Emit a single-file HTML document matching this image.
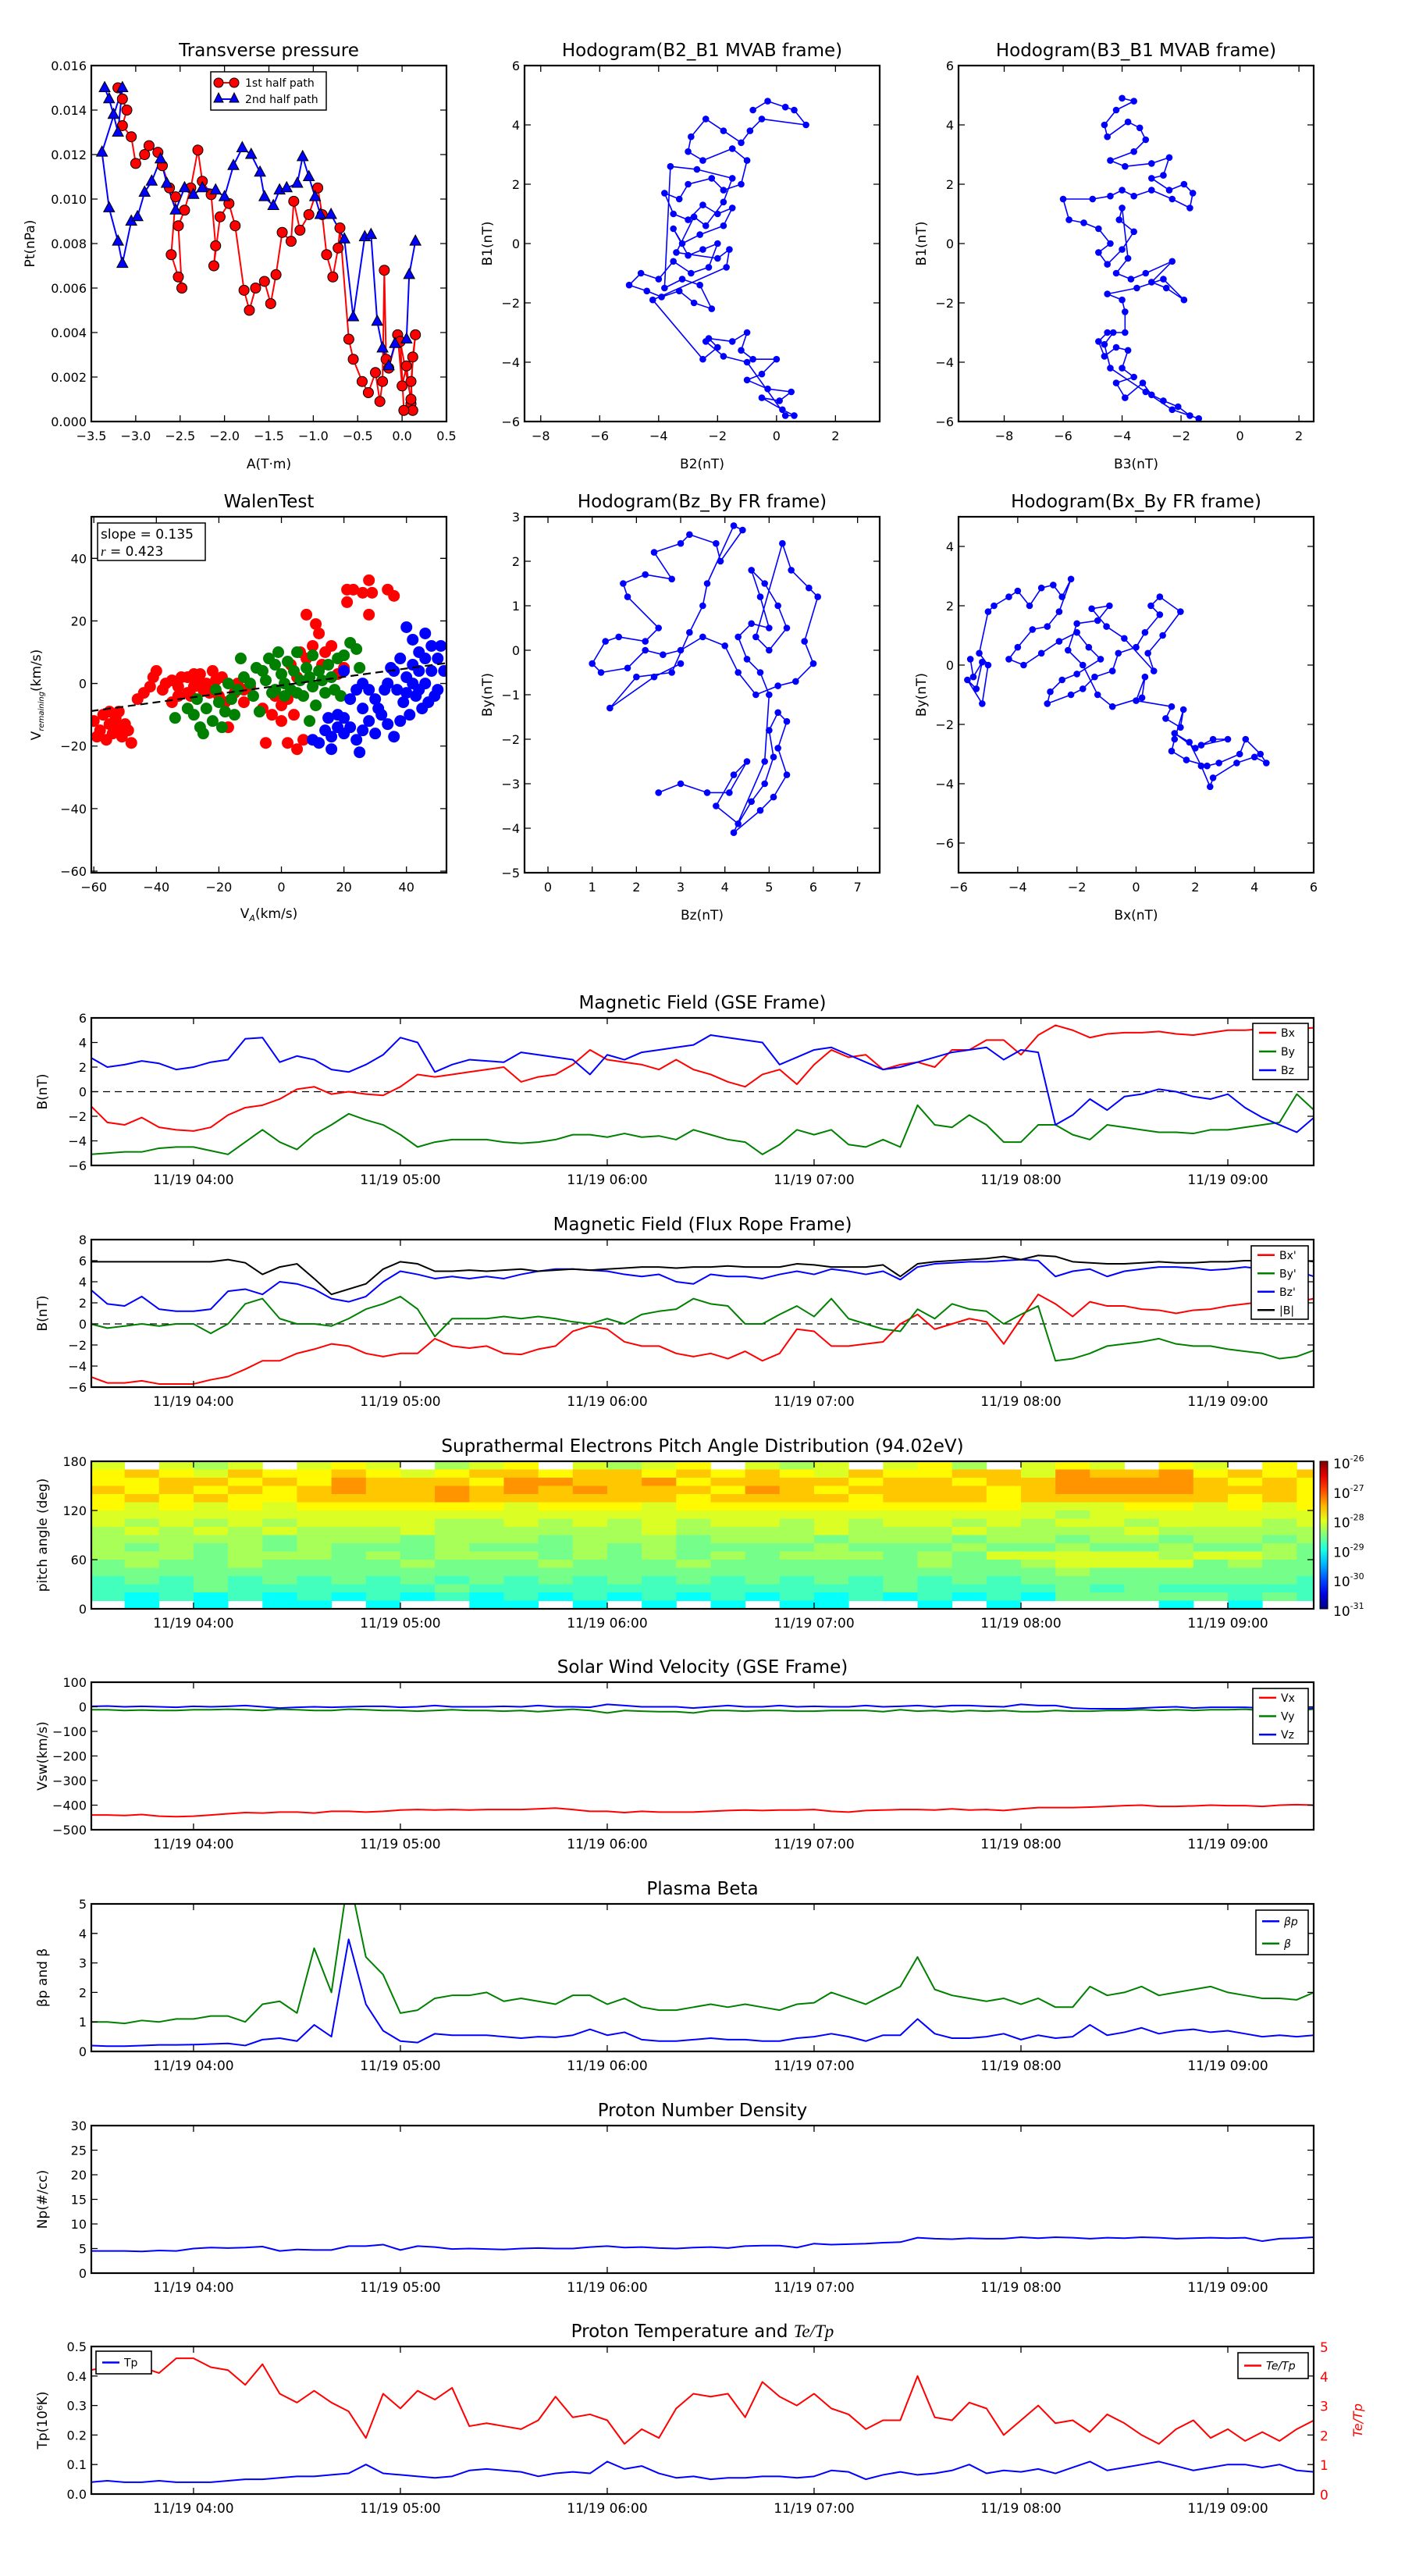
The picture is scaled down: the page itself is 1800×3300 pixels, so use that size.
<!DOCTYPE html>
<html><head><meta charset="utf-8"><style>
html,body{margin:0;padding:0;background:#fff;width:1800px;height:3300px;overflow:hidden}
svg{display:block;font-family:"DejaVu Sans","Liberation Sans",sans-serif}
</style></head><body>
<svg id="fig" width="1800" height="3300" viewBox="0 0 1800 3300"></svg>
<script>
// ---------------- DATA ----------------
const tpRedA=[-3.2,-3.15,-3.1,-3.15,-3.05,-3.0,-2.9,-2.85,-2.75,-2.7,-2.62,-2.55,-2.6,-2.52,-2.48,-2.52,-2.45,-2.38,-2.3,-2.25,-2.15,-2.1,-2.12,-2.05,-1.95,-1.88,-1.78,-1.72,-1.65,-1.55,-1.48,-1.42,-1.35,-1.25,-1.22,-1.15,-1.05,-0.95,-0.9,-0.85,-0.78,-0.72,-0.7,-0.6,-0.55,-0.45,-0.38,-0.3,-0.25,-0.22,-0.2,-0.18,-0.15,-0.05,0.0,0.05,0.1,0.12,0.1,0.15,0.12,0.1,-0.02,0.02];
const tpRedP=[0.015,0.0145,0.014,0.0133,0.0128,0.0116,0.012,0.0124,0.0121,0.0115,0.0105,0.0101,0.0075,0.0065,0.006,0.0088,0.0095,0.0105,0.0122,0.0108,0.0102,0.0079,0.007,0.0092,0.0098,0.0088,0.0059,0.005,0.006,0.0063,0.0053,0.0066,0.0085,0.0081,0.0099,0.0086,0.0093,0.0105,0.0093,0.0075,0.0065,0.0078,0.0087,0.0037,0.0028,0.0018,0.0013,0.0022,0.0009,0.0018,0.0068,0.0028,0.0024,0.0039,0.0016,0.0025,0.0008,0.0005,0.0018,0.0039,0.0029,0.001,0.0036,0.0005];
const tpBlueA=[-3.35,-3.3,-3.25,-3.2,-3.15,-3.38,-3.3,-3.2,-3.15,-3.05,-2.98,-2.9,-2.82,-2.72,-2.65,-2.55,-2.45,-2.35,-2.25,-2.1,-2.0,-1.9,-1.8,-1.7,-1.6,-1.55,-1.45,-1.38,-1.3,-1.18,-1.12,-1.05,-0.98,-0.92,-0.8,-0.65,-0.55,-0.42,-0.35,-0.28,-0.22,-0.15,-0.08,0.05,0.08,0.15];
const tpBlueP=[0.015,0.0145,0.0138,0.013,0.015,0.0121,0.0096,0.0081,0.0071,0.009,0.0092,0.0103,0.0108,0.0118,0.0107,0.0095,0.0105,0.0102,0.0105,0.0104,0.0101,0.0115,0.0123,0.012,0.0112,0.0101,0.0097,0.0104,0.0105,0.0107,0.0119,0.011,0.0101,0.0093,0.0093,0.0082,0.0047,0.0083,0.0084,0.0045,0.0033,0.0025,0.0035,0.0037,0.0066,0.0081];

const h1B2=[-0.8,-0.3,0.3,0.6,1,-0.5,-0.9,-1.2,-1.8,-2.4,-2.9,-3.0,-2.5,-1.5,-1,-1.2,-1.8,-2.2,-3.0,-3.3,-3.8,-3.5,-3.0,-2.5,-2.0,-1.5,-1.8,-2.6,-3.2,-3.5,-3.0,-2.5,-2.0,-2.3,-2.9,-3.5,-4.0,-4.6,-5.0,-4.4,-3.9,-3.3,-2.8,-2.2,-2.6,-3.2,-3.8,-3.6,-2.7,-1.5,-1.8,-2.4,-2.8,-3.4,-2.0,-1.6,-1.7,-4.2,-2.5,-2.0,-2.3,-1.5,-1.0,-1.2,-0.8,0,-0.5,-1.0,-0.3,0.5,0.1,-0.5,0.2,0.6,0.3,-1.0,-1.8,-2.4];
const h1B1=[4.5,4.8,4.6,4.5,4,4.2,3.8,3.4,3.8,4.2,3.6,3.1,2.8,3.2,2.8,2,1.8,2.2,2.0,1.5,1.7,1.0,0.8,1.3,1.0,1.2,0.6,0.3,0,0.5,-0.4,-0.2,0,-0.8,-1.0,-0.6,-1.2,-1.0,-1.4,-1.6,-1.8,-1.6,-2.0,-2.2,-1.4,-1.2,-1.5,2.6,2.5,2.2,1.4,0.6,0.9,-0.3,-0.5,-0.2,-0.8,-1.9,-3.9,-3.5,-3.2,-3.3,-3.0,-3.6,-3.9,-3.9,-4.4,-4.6,-4.9,-5.0,-5.3,-5.2,-5.6,-5.8,-5.8,-4.0,-3.8,-3.3];
const h2B3=[-4.0,-3.6,-4.2,-4.6,-4.5,-3.8,-3.4,-3.2,-3.6,-4.4,-3.9,-3.0,-2.4,-2.6,-3.0,-2.4,-1.9,-1.6,-1.7,-2.3,-3.0,-3.6,-4.0,-4.4,-5.0,-6.0,-5.8,-5.3,-4.8,-4.4,-4.8,-4.5,-4.0,-3.6,-4.1,-4.0,-3.8,-4.2,-3.7,-3.2,-2.3,-3.0,-2.5,-1.9,-2.6,-3.5,-4.5,-4.0,-3.9,-3.9,-4.5,-4.8,-4.6,-4.2,-3.8,-4.0,-3.6,-4.2,-3.9,-3.3,-3.0,-2.6,-2.1,-1.7,-1.4,-2.3,-3.2,-4.4,-4.6,-4.3];
const h2B1=[4.9,4.8,4.5,4.0,3.6,4.1,3.9,3.5,3.1,2.8,2.6,2.7,2.9,2.3,2.2,1.8,2.0,1.7,1.2,1.5,1.8,1.6,1.8,1.6,1.5,1.5,0.8,0.7,0.5,0,-0.3,-0.7,-0.2,0.4,0.8,1.2,-0.5,-1.0,-1.2,-1.0,-0.6,-1.3,-1.5,-1.9,-1.2,-1.5,-1.7,-1.9,-2.3,-3.0,-3.0,-3.3,-3.8,-3.5,-3.6,-4.2,-4.5,-4.7,-5.2,-4.7,-5.1,-5.3,-5.5,-5.8,-5.9,-5.6,-5.0,-4.2,-3.4,-3.0];
const h3Bz=[2.5,3,3.6,4.1,4.5,4.2,3.8,4.3,4.6,4.9,5.1,5.0,5.2,5.4,5.2,5.4,5.1,4.8,4.2,4.9,5.0,4.8,4.5,4.3,4.6,5.0,4.8,4.6,4.9,5.2,5.4,5.0,4.7,5.3,5.5,5.9,6.1,5.8,6.0,5.6,5.2,4.7,4.3,4.0,3.5,3.0,2.6,2.2,1.8,1.2,1.0,1.3,1.6,2.2,2.5,1.8,1.7,2.2,2.8,2.4,3.0,3.2,3.8,3.9,4.4,4.2,3.6,3.5,3.2,2.8,2.0,1.4,2.4,3.0];
const h3By=[-3.2,-3.0,-3.2,-3.2,-2.5,-2.8,-3.5,-3.9,-3.4,-3.0,-2.4,-1.8,-1.4,-1.6,-2.2,-2.8,-3.3,-3.6,-4.1,-2.5,-1.0,-0.5,-0.2,0.3,0.6,0.5,1.2,1.8,1.5,1.0,0.5,0.0,0.3,2.4,1.8,1.4,1.2,0.2,-0.3,-0.7,-0.8,-1.0,-0.5,0.1,0.3,0.0,-0.1,0.0,-0.4,-0.5,-0.3,0.2,0.3,0.2,0.5,1.2,1.5,1.7,1.6,2.2,2.4,2.6,2.4,2.0,2.7,2.8,1.5,1.0,0.4,-0.5,-0.6,-1.3,-0.6,-0.3];
const h4Bx=[-5.6,-5.5,-5.2,-5.4,-5.7,-5.2,-5.0,-5.3,-5.0,-4.8,-4.3,-4.0,-3.6,-3.2,-2.8,-2.5,-2.2,-2.6,-3.0,-3.5,-4.0,-4.3,-3.8,-3.2,-2.6,-2.0,-1.6,-1.2,-2.0,-2.5,-2.9,-3.0,-2.2,-1.8,-1.4,-0.8,-0.6,0.0,0.3,0.8,0.5,0.8,1.5,0.9,0.4,0.6,-0.4,-1.0,-1.5,-0.9,-1.3,-2.0,-2.3,-1.8,-1.3,-0.8,0.2,0.3,0.0,1.2,1.0,1.5,1.6,1.3,1.2,1.7,2.4,2.8,3.5,3.7,4.2,4.4,4.0,3.4,2.6,2.5,2.2,1.8,1.3,2.0,2.6,3.1,2.2];
const h4By=[0.2,-0.4,0.1,-0.8,-0.5,-1.3,0.0,0.4,1.8,2.0,2.3,2.5,2.0,2.6,2.7,2.3,2.9,1.8,1.3,1.2,0.6,0.2,0.0,0.4,0.8,1.1,0.6,0.2,-0.3,-0.5,-0.9,-1.3,-1.0,-0.8,-0.4,-0.2,0.4,0.6,1.1,1.7,2.0,2.3,1.8,1.0,0.4,-0.2,0.9,1.3,1.9,2.0,1.5,1.4,0.5,0.0,-1.0,-1.4,-1.1,-0.4,-1.2,-1.4,-1.8,-2.1,-1.5,-2.5,-2.9,-3.2,-3.4,-3.3,-3.0,-2.5,-3.0,-3.3,-3.1,-3.3,-3.8,-4.1,-3.4,-2.6,-2.3,-2.8,-2.5,-2.5,-2.7];

const walenRedX=[-60,-58,-57,-56,-55,-54,-53,-52,-51,-50,-49,-48,-55,-59,-52,-46,-44,-42,-41,-40,-38,-37,-35,-33,-32,-30,-30,-29,-28,-27,-26,-25,-24,-22,-21,-20,-19,-18,-17,-15,-12,-10,-6,-5,-3,0,2,5,-2,2,5,8,10,12,14,13,16,18,20,21,23,26,28,29,34,36,21,28,8,11,6,3,0,7,4,-35,-33,-28,-23,-14,-12];
const walenRedY=[-12,-15,-10,-18,-13,-16,-11,-14,-17,-13,-15,-19,-9,-17,-9,-5,-3,-1,2,4,-2,0,1,-1,2,-3,2,-4,-1,1,3,-2,0,4,1,-4,2,-6,-14,-3,-6,-1,-8,-19,-10,-12,-19,-21,-4,-5,2,8,12,16,10,6,12,3,5,30,30,29,33,29,30,28,26,22,22,19,10,6,-7,-18,-10,-6,-4,3,-3,0,-2];
const walenGreenX=[-34,-30,-28,-26,-25,-24,-22,-20,-19,-18,-16,-15,-14,-13,-12,-10,-8,-6,-5,-4,-3,-2,-1,0,1,2,3,4,5,6,7,8,9,10,11,12,13,14,15,16,17,18,20,22,24,25,19,-2,1,5,-27,-21,-17,-9,10,-7,9];
const walenGreenY=[-11,-8,-10,-14,-16,-8,-12,-6,-14,-9,-5,-10,-2,8,2,0,5,4,1,8,-3,6,10,3,0,7,-2,4,10,1,-4,5,2,-1,-7,4,1,-3,6,2,-2,8,9,13,11,5,-4,-2,-4,-3,-5,-2,0,-4,9,-9,-12];
const walenBlueX=[40,42,44,46,48,50,38,36,34,40,42,44,46,48,50,52,39,41,43,45,47,49,37,35,44,46,42,40,51,33,30,28,26,24,20,18,16,14,12,10,15,18,22,24,26,28,30,32,34,36,38,20,26,22,31,16,25,20];
const walenBlueY=[18,14,10,16,12,8,8,4,0,2,6,-2,0,4,-2,4,-6,-10,-4,-8,-6,-4,-2,5,4,8,0,-3,12,-2,-5,-2,0,-2,-11,-14,-17,-15,-19,-18,-11,-10,-14,-18,-15,-12,-16,-10,-13,-17,-12,-16,-8,-5,-8,-21,-22,4];
const walenSlope=0.135, walenIntercept=-0.6;

// time series: 5-minute samples starting 03:30 (hours relative to 04:00)
const tStart=-0.5, tStep=1/12;
const gseBx=[-1.1,-2.5,-2.7,-2.1,-2.9,-3.1,-3.2,-2.9,-1.9,-1.3,-1.1,-0.6,0.2,0.4,-0.2,0,-0.2,-0.3,0.4,1.4,1.2,1.4,1.6,1.8,2.0,0.8,1.2,1.4,2.2,3.4,2.6,2.4,2.2,1.8,2.6,1.8,1.4,0.8,0.4,1.4,1.8,0.6,2.2,3.4,2.8,3.0,1.8,2.2,2.4,2.0,3.4,3.4,4.2,4.2,3.0,4.6,5.4,5.0,4.4,4.7,4.8,4.8,4.9,4.7,4.6,4.8,5.0,5.0,5.1,5.0,5.1,5.2];
const gseBy=[-5.1,-5.0,-4.9,-4.9,-4.6,-4.5,-4.5,-4.8,-5.1,-4.1,-3.1,-4.1,-4.7,-3.5,-2.7,-1.8,-2.3,-2.7,-3.5,-4.5,-4.1,-3.9,-3.9,-3.9,-4.1,-4.2,-4.1,-3.9,-3.5,-3.5,-3.7,-3.4,-3.7,-3.6,-3.9,-3.1,-3.5,-3.9,-4.1,-5.1,-4.3,-3.1,-3.5,-3.1,-4.3,-4.5,-3.9,-4.5,-1.1,-2.7,-2.9,-1.9,-2.7,-4.1,-4.1,-2.7,-2.7,-3.5,-3.9,-2.7,-2.9,-3.1,-3.3,-3.3,-3.4,-3.1,-3.1,-2.9,-2.7,-2.5,-0.2,-1.5];
const gseBz=[2.8,2.0,2.2,2.5,2.3,1.8,2.0,2.4,2.6,4.3,4.4,2.4,2.9,2.6,1.8,1.6,2.2,3.0,4.4,4.0,1.6,2.2,2.6,2.5,2.4,3.2,3.0,2.8,2.6,1.4,3.0,2.6,3.2,3.4,3.6,3.8,4.6,4.4,4.2,4.0,2.2,2.8,3.4,3.6,3.0,2.4,1.8,2.0,2.4,2.8,3.2,3.4,3.6,2.6,3.4,3.2,-2.7,-1.9,-0.6,-1.5,-0.4,-0.2,0.2,0,-0.4,-0.6,-0.2,-1.3,-2.1,-2.7,-3.3,-2.1];
const frBx=[-5.0,-5.6,-5.6,-5.4,-5.7,-5.7,-5.7,-5.3,-5.0,-4.3,-3.5,-3.5,-2.8,-2.4,-1.9,-2.1,-2.8,-3.1,-2.8,-2.8,-1.4,-2.1,-2.3,-2.1,-2.8,-2.9,-2.4,-2.1,-0.7,-0.2,-0.5,-1.7,-2.1,-2.1,-2.8,-3.1,-2.8,-3.3,-2.6,-3.5,-2.8,-0.5,-0.7,-2.1,-2.1,-1.9,-1.7,0,0.9,-0.5,0,0.5,0.2,-1.9,0.5,2.8,1.9,0.7,2.1,1.7,1.7,1.4,1.3,1.0,1.3,1.4,1.7,1.9,2.1,2.1,2.1,2.4];
const frBy=[0,-0.4,-0.2,0,-0.2,0,0,-0.9,0,1.9,2.4,0.5,0,0,-0.2,0.5,1.4,1.9,2.6,1.4,-1.2,0.5,0.5,0.5,0.7,0.5,0.7,0.5,0.2,0,0.5,0,0.9,1.2,1.4,2.4,1.9,1.7,0,0,0.9,1.7,0.7,2.4,0.5,0,-0.5,-0.7,1.4,0.5,1.9,1.4,1.2,0,0.9,1.7,-3.5,-3.3,-2.8,-2.1,-1.9,-1.7,-1.4,-1.9,-2.1,-2.1,-2.4,-2.6,-2.8,-3.3,-3.1,-2.5];
const frBz=[3.3,1.9,1.7,2.6,1.4,1.2,1.2,1.4,3.1,3.3,2.8,4.0,3.8,3.3,2.4,2.1,2.6,4.0,5.0,4.7,4.3,4.5,4.3,4.5,4.3,4.7,5.0,5.2,5.2,5.1,5.0,4.7,4.5,4.7,4.0,3.8,4.7,4.5,4.5,4.3,4.7,5.0,4.7,5.2,5.0,4.7,5.0,4.2,5.4,5.7,5.8,5.9,5.9,6.0,6.1,6.0,4.5,5.0,5.2,4.5,5.0,5.2,5.4,5.4,5.3,5.1,5.2,5.4,5.2,5.1,5.0,4.5];
const frBt=[5.9,5.9,5.9,5.9,5.9,5.9,5.9,5.9,6.1,5.8,4.7,5.4,5.7,4.3,2.8,3.3,3.8,5.2,5.9,5.7,5.0,5.0,5.1,5.0,5.1,5.2,5.0,5.1,5.2,5.1,5.2,5.3,5.4,5.4,5.3,5.4,5.4,5.5,5.4,5.4,5.4,5.7,5.6,5.4,5.4,5.4,5.6,4.5,5.7,5.9,6.0,6.1,6.2,6.4,6.1,6.5,6.4,5.9,5.8,5.7,5.7,5.8,5.9,5.8,5.8,5.9,5.9,6.0,6.0,6.0,6.1,5.9];
const vswVx=[-440,-440,-442,-438,-445,-447,-445,-440,-435,-430,-432,-428,-428,-432,-425,-425,-428,-425,-420,-418,-420,-418,-420,-418,-418,-418,-415,-412,-418,-425,-425,-430,-425,-428,-428,-428,-425,-422,-420,-422,-420,-420,-418,-425,-428,-422,-420,-418,-418,-420,-415,-420,-418,-422,-415,-410,-410,-410,-408,-405,-402,-400,-405,-405,-403,-400,-402,-402,-405,-400,-398,-400];
const vswVy=[-12,-12,-15,-13,-15,-15,-12,-12,-10,-12,-15,-10,-12,-15,-15,-10,-12,-15,-15,-18,-15,-12,-15,-15,-18,-15,-20,-15,-10,-15,-25,-15,-18,-20,-20,-25,-15,-15,-18,-15,-15,-18,-18,-15,-15,-15,-20,-12,-18,-15,-20,-15,-18,-15,-20,-20,-15,-18,-18,-15,-15,-12,-15,-12,-15,-12,-12,-10,-15,-10,-15,-10];
const vswVz=[2,3,0,2,0,-2,2,0,2,5,0,-5,-2,0,-2,0,2,2,-2,0,5,0,0,0,2,0,5,0,0,-2,10,5,0,0,0,-5,0,5,0,0,5,0,2,0,0,5,0,2,5,0,5,5,2,0,10,5,5,-5,-8,-8,-8,-5,-2,0,-5,-2,-2,-2,-5,-5,-8,-5];
const betaP=[0.2,0.18,0.18,0.2,0.22,0.22,0.23,0.25,0.27,0.2,0.4,0.45,0.35,0.9,0.5,3.8,1.6,0.7,0.35,0.3,0.6,0.55,0.55,0.55,0.5,0.45,0.5,0.48,0.55,0.75,0.55,0.65,0.4,0.35,0.35,0.4,0.45,0.4,0.4,0.35,0.35,0.45,0.5,0.6,0.5,0.35,0.55,0.55,1.1,0.6,0.45,0.45,0.5,0.6,0.4,0.55,0.45,0.5,0.9,0.55,0.65,0.8,0.6,0.7,0.75,0.65,0.7,0.6,0.5,0.55,0.5,0.55];
const betaT=[1.0,1.0,0.95,1.05,1.0,1.1,1.1,1.2,1.2,1.0,1.6,1.7,1.3,3.5,2.0,6.0,3.2,2.6,1.3,1.4,1.8,1.9,1.9,2.0,1.7,1.8,1.7,1.6,1.9,1.9,1.6,1.8,1.5,1.4,1.4,1.5,1.6,1.5,1.6,1.5,1.4,1.6,1.65,2.0,1.8,1.6,1.9,2.2,3.2,2.1,1.9,1.8,1.7,1.8,1.6,1.8,1.5,1.5,2.2,1.9,2.0,2.2,1.9,2.0,2.1,2.2,2.0,1.9,1.8,1.8,1.75,2.0];
const npDen=[4.5,4.5,4.5,4.4,4.6,4.5,5,5.2,5.1,5.2,5.4,4.5,4.8,4.7,4.7,5.5,5.5,5.8,4.7,5.5,5.3,4.9,5.0,4.9,4.8,5.0,5.1,5.0,5.0,5.3,5.5,5.2,5.3,5.1,5.0,5.2,5.3,5.1,5.5,5.6,5.6,5.2,6.0,5.8,5.9,6.0,6.2,6.3,7.2,7.0,6.9,7.1,7.0,7.0,7.3,7.1,7.3,7.2,7.0,7.2,7.1,7.3,7.2,7.0,7.1,7.2,7.1,7.2,6.5,7.0,7.1,7.3];
const tpTemp=[0.04,0.045,0.04,0.04,0.045,0.04,0.04,0.04,0.045,0.05,0.05,0.055,0.06,0.06,0.065,0.07,0.1,0.07,0.065,0.06,0.055,0.06,0.08,0.085,0.08,0.075,0.06,0.07,0.075,0.07,0.11,0.085,0.095,0.07,0.055,0.06,0.05,0.055,0.055,0.06,0.06,0.055,0.06,0.08,0.075,0.05,0.065,0.075,0.065,0.07,0.08,0.1,0.07,0.08,0.075,0.085,0.07,0.09,0.11,0.08,0.09,0.1,0.11,0.095,0.08,0.09,0.1,0.1,0.09,0.1,0.08,0.075];
const teTp=[4.2,4.3,4.6,4.3,4.1,4.6,4.6,4.3,4.2,3.7,4.4,3.4,3.1,3.5,3.1,2.8,1.9,3.4,2.9,3.5,3.2,3.6,2.3,2.4,2.3,2.2,2.5,3.3,2.6,2.7,2.5,1.7,2.2,1.9,2.9,3.4,3.3,3.4,2.6,3.8,3.3,3.0,3.4,2.9,2.7,2.2,2.5,2.5,4.0,2.6,2.5,3.1,2.9,2.0,2.5,3.0,2.4,2.5,2.1,2.7,2.4,2.0,1.7,2.2,2.5,1.9,2.2,1.8,2.1,1.8,2.2,2.5];
// pitch-angle distribution: rows top (170-180 deg) to bottom (0-10 deg); 10-min columns from 03:30; digit = level (0 = no data)
const padRows=[
"505450565045605456054505640565065060",
"676576676567767767676576677587786767",
"667767687776887786777767767788887676",
"767676787787878777687677776788887776",
"676766777787777776777767776777777676",
"656565666666566656666666666555665656",
"555555555555555555555555555545555555",
"545454555544545454554545545455455545",
"454545444544444454444544454444544444",
"444443444344434443444344434434434434",
"434343433343334343333433343343343343",
"444344434344434343434443435555545543",
"343343333433343334333333433455553433",
"333333333333333333333333333343333333",
"232323232323232323232323232333333332",
"222322222232222222222223222232322222",
"212121212121212121212121212133333232",
"010101101001101010101100101000010100"];
const padLevels=[0,0.38,0.44,0.49,0.54,0.59,0.63,0.68,0.73];
const timeTicks=[0,1,2,3,4,5];
const timeTickLabels=["11/19 04:00","11/19 05:00","11/19 06:00","11/19 07:00","11/19 08:00","11/19 09:00"];

// ---------------- DRAWING ----------------
const NS='http://www.w3.org/2000/svg';
const svg=document.getElementById('fig');
function mk(tag,parent){const e=document.createElementNS(NS,tag);(parent||svg).appendChild(e);return e;}
function txt(parent,x,y,s,size,anchor,fill,rot){
  const t=mk('text',parent);t.setAttribute('x',x);t.setAttribute('y',y);t.setAttribute('font-size',size);
  t.setAttribute('text-anchor',anchor||'middle');t.setAttribute('fill',fill||'#000');
  if(rot){t.setAttribute('transform','rotate('+rot+' '+x+' '+y+')');}
  t.textContent=s;return t;}
function fmt(v,d){let s=v.toFixed(d);return s.replace('-','\u2212');}

function axes(name,x0,y0,w,h,xr,yr){
  const g=mk('g');
  
  
  const sx=v=>x0+(v-xr[0])/(xr[1]-xr[0])*w;
  const sy=v=>y0+h-(v-yr[0])/(yr[1]-yr[0])*h;
  const cp=mk('clipPath',g);cp.setAttribute('id','clip-'+name);
  const cr=mk('rect',cp);cr.setAttribute('x',x0);cr.setAttribute('y',y0);cr.setAttribute('width',w);cr.setAttribute('height',h);
  const plot=mk('g',g);plot.setAttribute('clip-path','url(#clip-'+name+')');
  return {g,plot,sx,sy,x0,y0,w,h};
}
function frame(a){
  const r=mk('rect',a.g);r.setAttribute('x',a.x0);r.setAttribute('y',a.y0);r.setAttribute('width',a.w);r.setAttribute('height',a.h);
  r.setAttribute('fill','none');r.setAttribute('stroke','#000');r.setAttribute('stroke-width',2.2);
  
  
}
function xticks(a,vals,labels,size){
  vals.forEach((v,i)=>{const x=a.sx(v);
    const l=mk('path',a.g);l.setAttribute('d','M'+x+' '+(a.y0+a.h)+'v-8M'+x+' '+a.y0+'v8');l.setAttribute('stroke','#000');l.setAttribute('stroke-width',1.3);
    const t=txt(a.g,x,a.y0+a.h+24,labels[i],size||16);
    
    });
}
function yticks(a,vals,labels,size,noRight){
  vals.forEach((v,i)=>{const y=a.sy(v);
    const l=mk('path',a.g);l.setAttribute('d','M'+a.x0+' '+y+'h8'+(noRight?'':'M'+(a.x0+a.w)+' '+y+'h-8'));l.setAttribute('stroke','#000');l.setAttribute('stroke-width',1.3);
    const t=txt(a.g,a.x0-6,y+6,labels[i],size||16,'end');
    
    });
}
function title(a,s,size){const t=txt(svg,a.x0+a.w/2,a.y0-12,s,size||23);
  
  return t;}
function xlabel(a,s,dy){const t=txt(svg,a.x0+a.w/2,a.y0+a.h+(dy||58),s,17);
  
  return t;}
function ylabel(a,s,x){const y=a.y0+a.h/2;const t=txt(svg,x,y,s,17,'middle','#000',-90);
  
  return t;}
function polyline(parent,xs,ys,a,color,wid){
  const p=mk('polyline',parent);p.setAttribute('points',xs.map((v,i)=>a.sx(v)+','+a.sy(ys[i])).join(' '));
  p.setAttribute('fill','none');p.setAttribute('stroke',color);p.setAttribute('stroke-width',wid||2);p.setAttribute('stroke-linejoin','round');return p;}
function range(a,b,s){const r=[];for(let v=a;v<=b+1e-9;v+=s)r.push(+v.toFixed(6));return r;}

// ---- Row 1 & 2 small plots ----
const cols=[117,672,1228], PW=455, r1y=84, r2y=662, PH=456;

// Transverse pressure
{const a=axes('transverse-pressure-chart',cols[0],r1y,PW,PH,[-3.5,0.5],[0,0.016]);
 polyline(a.plot,tpRedA,tpRedP,a,'#f00',2);
 polyline(a.plot,tpBlueA,tpBlueP,a,'#00f',2);
 tpRedA.forEach((v,i)=>{const c=mk('circle',a.plot);c.setAttribute('cx',a.sx(v));c.setAttribute('cy',a.sy(tpRedP[i]));c.setAttribute('r',6.5);c.setAttribute('fill','#f00');c.setAttribute('stroke','#000');c.setAttribute('stroke-width',1);
   
   });
 tpBlueA.forEach((v,i)=>{const x=a.sx(v),y=a.sy(tpBlueP[i]);const p=mk('path',a.plot);p.setAttribute('d','M'+x+' '+(y-8)+'L'+(x+7)+' '+(y+5)+'L'+(x-7)+' '+(y+5)+'Z');p.setAttribute('fill','#00f');p.setAttribute('stroke','#000');p.setAttribute('stroke-width',1);
   
   });
 frame(a);
 xticks(a,range(-3.5,0.5,0.5),range(-3.5,0.5,0.5).map(v=>fmt(v,1)));
 yticks(a,range(0,0.016,0.002),range(0,0.016,0.002).map(v=>v.toFixed(3)));
 title(a,'Transverse pressure');xlabel(a,'A(T·m)',60);ylabel(a,'Pt(nPa)',44);
 const lg=mk('g');
 
 
 const b=mk('rect',lg);b.setAttribute('x',270);b.setAttribute('y',92);b.setAttribute('width',148);b.setAttribute('height',49);b.setAttribute('fill','#fff');b.setAttribute('stroke','#000');b.setAttribute('stroke-width',1.5);
 const l1=mk('path',lg);l1.setAttribute('d','M276 106h28');l1.setAttribute('stroke','#f00');l1.setAttribute('stroke-width',2);
 [280,300].forEach(cx=>{const c=mk('circle',lg);c.setAttribute('cx',cx);c.setAttribute('cy',106);c.setAttribute('r',6);c.setAttribute('fill','#f00');c.setAttribute('stroke','#000');});
 const l2=mk('path',lg);l2.setAttribute('d','M276 127h28');l2.setAttribute('stroke','#00f');l2.setAttribute('stroke-width',2);
 [280,300].forEach(cx=>{const p=mk('path',lg);p.setAttribute('d','M'+cx+' 119L'+(cx+6)+' 131L'+(cx-6)+' 131Z');p.setAttribute('fill','#00f');p.setAttribute('stroke','#000');});
 txt(lg,314,111,'1st half path',14,'start');txt(lg,314,132,'2nd half path',14,'start');}

function hodo(name,col,row,xr,yr,xs,ys,xt,yt,ttl,xl,yl,xd){
  const a=axes(name,cols[col],row,PW,PH,xr,yr);
  polyline(a.plot,xs,ys,a,'#00f',1.6);
  xs.forEach((v,i)=>{const c=mk('circle',a.plot);c.setAttribute('cx',a.sx(v));c.setAttribute('cy',a.sy(ys[i]));c.setAttribute('r',4.3);c.setAttribute('fill','#00f');
    
    });
  frame(a);xticks(a,xt,xt.map(v=>fmt(v,0)));yticks(a,yt,yt.map(v=>fmt(v,0)));
  title(a,ttl);xlabel(a,xl,60);ylabel(a,yl,cols[col]-42);return a;}
hodo('hodogram-b2-b1-chart',1,r1y,[-8.55,3.5],[-6,6],h1B2,h1B1,range(-8,2,2),range(-6,6,2),'Hodogram(B2_B1 MVAB frame)','B2(nT)','B1(nT)');
hodo('hodogram-b3-b1-chart',2,r1y,[-9.55,2.5],[-6,6],h2B3,h2B1,range(-8,2,2),range(-6,6,2),'Hodogram(B3_B1 MVAB frame)','B3(nT)','B1(nT)');
hodo('hodogram-bz-by-chart',1,r2y,[-0.53,7.5],[-5,3],h3Bz,h3By,range(0,7,1),range(-5,3,1),'Hodogram(Bz_By FR frame)','Bz(nT)','By(nT)');
hodo('hodogram-bx-by-chart',2,r2y,[-6,6],[-7,5],h4Bx,h4By,range(-6,6,2),range(-6,4,2),'Hodogram(Bx_By FR frame)','Bx(nT)','By(nT)');

// Walen test
{const a=axes('walen-test-chart',cols[0],r2y,PW,PH,[-60.8,52.8],[-60.5,53.3]);
 [[walenRedX,walenRedY,'#f00'],[walenGreenX,walenGreenY,'#008000'],[walenBlueX,walenBlueY,'#00f']].forEach(s=>{
   s[0].forEach((v,i)=>{const c=mk('circle',a.plot);c.setAttribute('cx',a.sx(v));c.setAttribute('cy',a.sy(s[1][i]));c.setAttribute('r',7.5);c.setAttribute('fill',s[2]);
     
     });});
 const ln=mk('line',a.plot);ln.setAttribute('x1',a.sx(-61));ln.setAttribute('y1',a.sy(-61*walenSlope+walenIntercept));ln.setAttribute('x2',a.sx(53));ln.setAttribute('y2',a.sy(53*walenSlope+walenIntercept));
 ln.setAttribute('stroke','#000');ln.setAttribute('stroke-width',2.2);ln.setAttribute('stroke-dasharray','10 6');
 
 
 frame(a);xticks(a,range(-60,40,20),range(-60,40,20).map(v=>fmt(v,0)));yticks(a,range(-60,40,20),range(-60,40,20).map(v=>fmt(v,0)));
 title(a,'WalenTest');
 const xl=txt(svg,a.x0+a.w/2,a.y0+a.h+58,'V',17);const sub=mk('tspan',xl);sub.setAttribute('font-size',11);sub.setAttribute('dy',4);sub.setAttribute('font-style','italic');sub.textContent='A';const rest=mk('tspan',xl);rest.setAttribute('dy',-4);rest.textContent='(km/s)';
 
 
 const yl=txt(svg,52,a.y0+a.h/2,'V',17,'middle','#000',-90);const s2=mk('tspan',yl);s2.setAttribute('font-size',10);s2.setAttribute('dy',4);s2.setAttribute('font-style','italic');s2.textContent='remaining';const r2=mk('tspan',yl);r2.setAttribute('dy',-4);r2.textContent='(km/s)';
 
 
 const bx=mk('g');
 
 
 const r=mk('rect',bx);r.setAttribute('x',125);r.setAttribute('y',670);r.setAttribute('width',138);r.setAttribute('height',48);r.setAttribute('fill','#fff');r.setAttribute('stroke','#000');r.setAttribute('stroke-width',1.5);
 txt(bx,129,690,'slope = 0.135',17,'start');const rt=txt(bx,129,712,'',17,'start');const ri=mk('tspan',rt);ri.setAttribute('font-style','italic');ri.setAttribute('font-family','Liberation Serif, serif');ri.textContent='r';const rv=mk('tspan',rt);rv.textContent=' = 0.423';}

// ---- Time series panels ----
const TX=117, TW=1566, TH=189, tr=[-0.494,5.415];
const tops=[1304,1588,1872,2155,2439,2723,3006];
const tArr=gseBx.map((_,i)=>tStart+i*tStep);
function tsPanel(name,idx,yr){
  const a=axes(name,TX,tops[idx],TW,TH,tr,yr);
  return a;}
function finishTs(a,yt,yl,ttl,ylab,noRight){frame(a);xticks(a,timeTicks,timeTickLabels,17);yticks(a,yt,yl,16,noRight);if(ttl)title(a,ttl,23);if(ylab)ylabel(a,ylab,60);}
function legend(name,x,y,w,h,items){
  const g=mk('g');
  
  
  const r=mk('rect',g);r.setAttribute('x',x);r.setAttribute('y',y);r.setAttribute('width',w);r.setAttribute('height',h);r.setAttribute('fill','#fff');r.setAttribute('stroke','#000');r.setAttribute('stroke-width',1.6);
  const step=h/items.length;
  items.forEach((it,i)=>{const cy=y+step*(i+0.5);const l=mk('path',g);l.setAttribute('d','M'+(x+8)+' '+cy+'h22');l.setAttribute('stroke',it[1]);l.setAttribute('stroke-width',2.5);
    const t=txt(g,x+36,cy+5,it[0],14,'start');if(it[2])t.setAttribute('font-style','italic');});
  return g;}
function zeroLine(a){const l=mk('line',a.plot);l.setAttribute('x1',a.x0);l.setAttribute('x2',a.x0+a.w);l.setAttribute('y1',a.sy(0));l.setAttribute('y2',a.sy(0));l.setAttribute('stroke','#000');l.setAttribute('stroke-width',1.3);l.setAttribute('stroke-dasharray','9 6');
  
  }

{const a=tsPanel('gse-magnetic-field-chart',0,[-6,6]);zeroLine(a);
 polyline(a.plot,tArr,gseBx,a,'#f00');
 polyline(a.plot,tArr,gseBy,a,'#008000');
 polyline(a.plot,tArr,gseBz,a,'#00f');
 finishTs(a,range(-6,6,2),range(-6,6,2).map(v=>fmt(v,0)),'Magnetic Field (GSE Frame)','B(nT)');
 legend('gse-legend',1605,1311,71,72,[['Bx','#f00'],['By','#008000'],['Bz','#00f']]);}
{const a=tsPanel('flux-rope-magnetic-field-chart',1,[-6,8]);zeroLine(a);
 polyline(a.plot,tArr,frBx,a,'#f00');
 polyline(a.plot,tArr,frBy,a,'#008000');
 polyline(a.plot,tArr,frBz,a,'#00f');
 polyline(a.plot,tArr,frBt,a,'#000');
 finishTs(a,range(-6,8,2),range(-6,8,2).map(v=>fmt(v,0)),'Magnetic Field (Flux Rope Frame)','B(nT)');
 legend('flux-rope-legend',1603,1596,73,94,[["Bx'",'#f00'],["By'",'#008000'],["Bz'",'#00f'],['|B|','#000']]);}
function jet(v){const c=x=>Math.round(255*Math.max(0,Math.min(1,x)));return 'rgb('+c(1.5-Math.abs(4*v-3))+','+c(1.5-Math.abs(4*v-2))+','+c(1.5-Math.abs(4*v-1))+')';}
{const a=tsPanel('pitch-angle-distribution-chart',2,[0,180]);
 const nR=padRows.length;
 padRows.forEach((row,ri)=>{for(let ci=0;ci<row.length;ci++){const d=+row[ci];if(!d)continue;
   const t0=tStart+ci/6,t1=tStart+(ci+1)/6;const pa1=180-ri*180/nR,pa0=pa1-180/nR;
   const r=mk('rect',a.plot);r.setAttribute('x',a.sx(t0));r.setAttribute('y',a.sy(pa1));r.setAttribute('width',a.sx(t1)-a.sx(t0)+0.5);r.setAttribute('height',a.sy(pa0)-a.sy(pa1)+0.5);r.setAttribute('fill',jet(padLevels[d]));
   
   }});
 finishTs(a,[0,60,120,180],['0','60','120','180'],'Suprathermal Electrons Pitch Angle Distribution (94.02eV)','pitch angle (deg)');
 const cb=mk('g');
 
 
 const defs=mk('defs',cb);const lgd=mk('linearGradient',defs);lgd.setAttribute('id','jetg');lgd.setAttribute('x1',0);lgd.setAttribute('y1',1);lgd.setAttribute('x2',0);lgd.setAttribute('y2',0);
 for(let i=0;i<=10;i++){const s=mk('stop',lgd);s.setAttribute('offset',i/10);s.setAttribute('stop-color',jet(i/10));}
 const r=mk('rect',cb);r.setAttribute('x',1691);r.setAttribute('y',1872);r.setAttribute('width',10);r.setAttribute('height',189);r.setAttribute('fill','url(#jetg)');r.setAttribute('stroke','#000');
 ['-26','-27','-28','-29','-30','-31'].forEach((e,i)=>{const y=1872+i*189/5;const t=txt(cb,1708,y+9,'10',17,'start');const s=mk('tspan',t);s.setAttribute('font-size',11);s.setAttribute('dy',-9);s.textContent=e;});}
{const a=tsPanel('solar-wind-velocity-chart',3,[-500,100]);
 polyline(a.plot,tArr,vswVx,a,'#f00');
 polyline(a.plot,tArr,vswVy,a,'#008000');
 polyline(a.plot,tArr,vswVz,a,'#00f');
 finishTs(a,range(-500,100,100),range(-500,100,100).map(v=>fmt(v,0)),'Solar Wind Velocity (GSE Frame)','Vsw(km/s)');
 legend('velocity-legend',1605,2163,71,71,[['Vx','#f00'],['Vy','#008000'],['Vz','#00f']]);}
{const a=tsPanel('plasma-beta-chart',4,[0,5]);
 polyline(a.plot,tArr,betaP,a,'#00f');
 polyline(a.plot,tArr,betaT,a,'#008000');
 finishTs(a,range(0,5,1),range(0,5,1).map(v=>fmt(v,0)),'Plasma Beta','βp and β');
 legend('beta-legend',1609,2447,67,57,[['βp','#00f',1],['β','#008000',1]]);}
{const a=tsPanel('proton-density-chart',5,[0,30]);
 polyline(a.plot,tArr,npDen,a,'#00f');
 finishTs(a,range(0,30,5),range(0,30,5).map(v=>fmt(v,0)),'Proton Number Density','Np(#/cc)');}
{const a=tsPanel('proton-temperature-chart',6,[0,0.5]);
 const a2={sx:a.sx,sy:v=>a.y0+a.h-v/5*a.h};
 polyline(a.plot,tArr,tpTemp,a,'#00f');
 polyline(a.plot,tArr,teTp,a2,'#f00');
 finishTs(a,range(0,0.5,0.1),range(0,0.5,0.1).map(v=>v.toFixed(1)),null,'Tp(10⁶K)',true);
 range(0,5,1).forEach(v=>{const y=a2.sy(v);const l=mk('path',a.g);l.setAttribute('d','M'+(a.x0+a.w)+' '+y+'h-8');l.setAttribute('stroke','#000');l.setAttribute('stroke-width',1.3);
   const t=txt(a.g,a.x0+a.w+8,y+7,String(v),17,'start','#f00');
   
   });
 const tt=txt(svg,a.x0+a.w/2,a.y0-12,'Proton Temperature and ',23);const ti=mk('tspan',tt);ti.setAttribute('font-style','italic');ti.setAttribute('font-family','Liberation Serif, serif');ti.textContent='Te/Tp';
 
 
 const rl=txt(svg,1745,a.y0+a.h/2,'Te/Tp',16,'middle','#f00',-90);rl.setAttribute('font-style','italic');
 
 
 legend('tp-legend',123,3012,71,29,[['Tp','#00f']]);
 legend('te-tp-legend',1586,3014,90,33,[['Te/Tp','#f00',1]]);}
</script>
</body></html>
